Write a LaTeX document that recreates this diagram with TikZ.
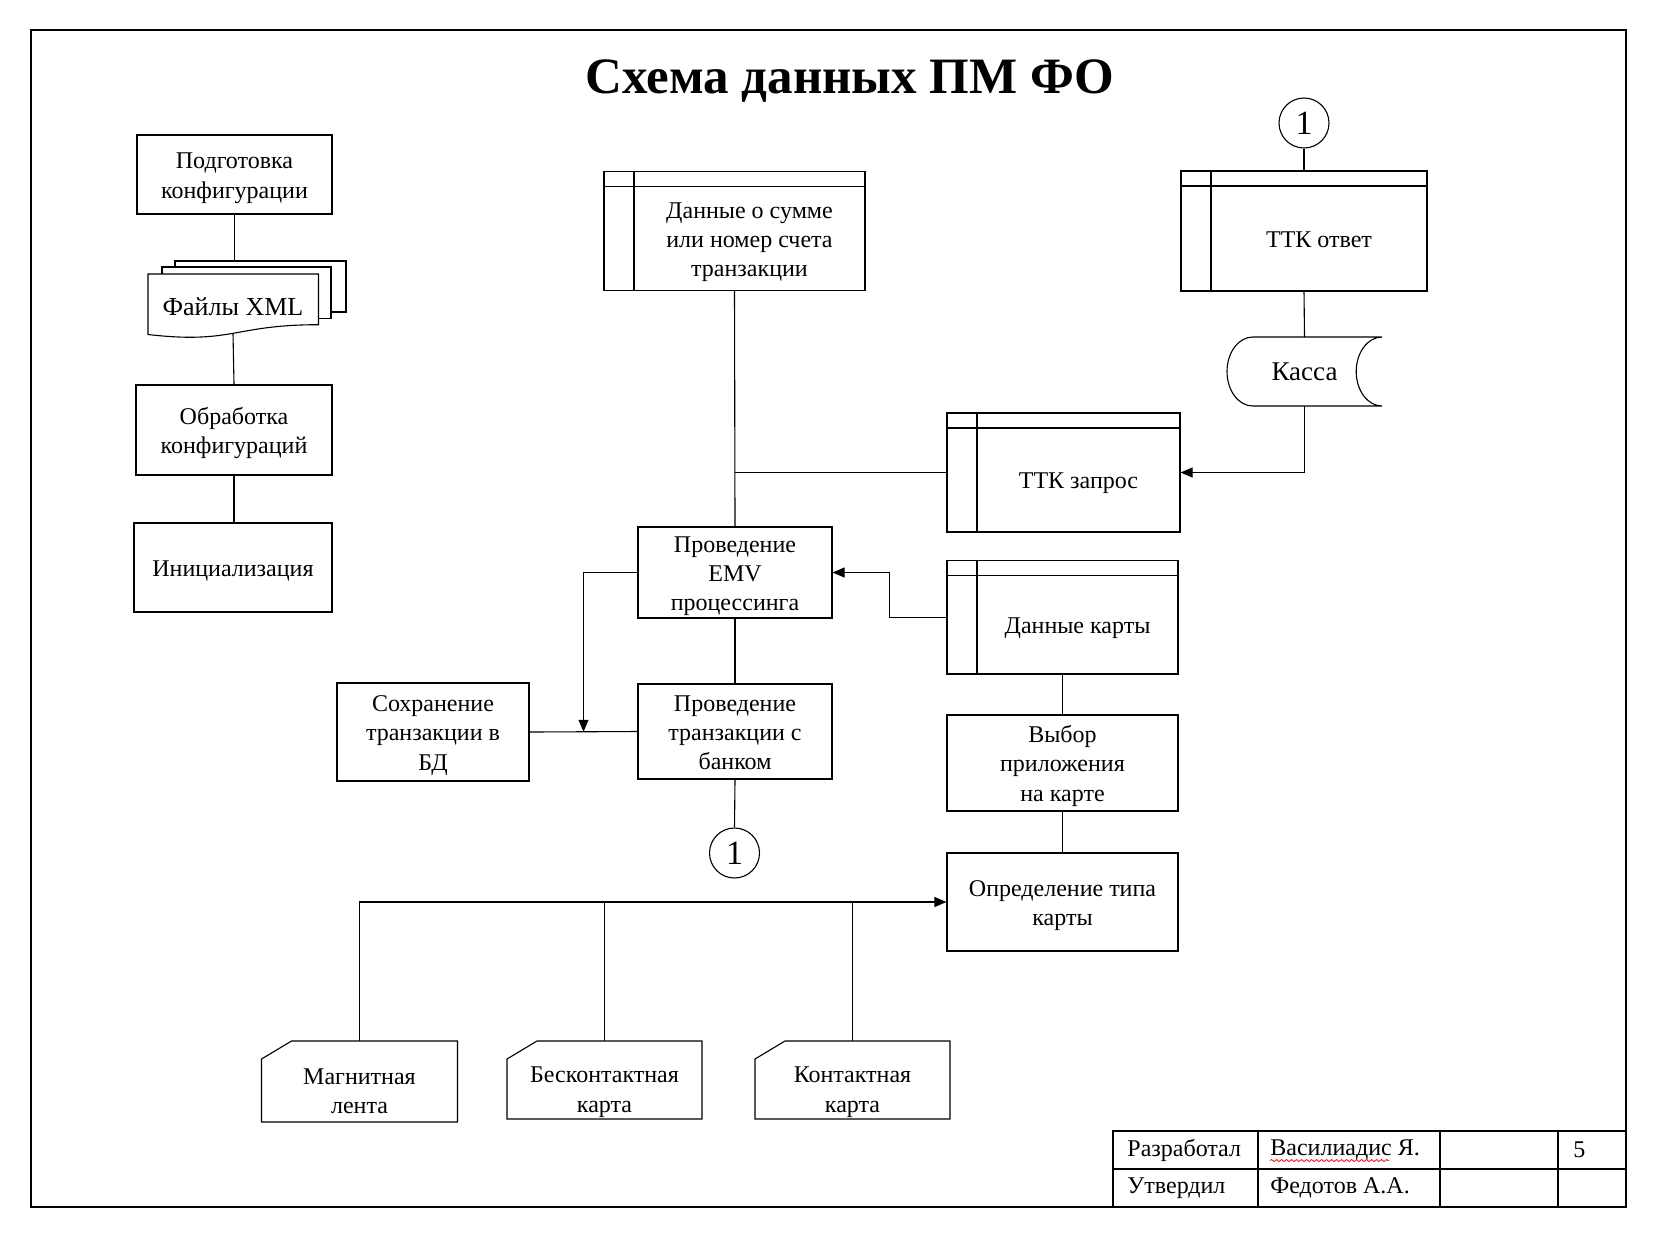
\documentclass[tikz,border=0pt]{standalone}
\usepackage{fontspec}
\setmainfont{Liberation Serif}
\usetikzlibrary{arrows.meta,calc,decorations.pathmorphing}
\newcommand{\bodyfont}{\fontsize{12}{14.7}\selectfont}
\newcommand{\boxfont}{\bodyfont\rule[-2.5pt]{0pt}{14pt}}
\newcommand{\tstrut}{\rule{0pt}{11.5pt}}
\tikzset{
  blk/.style={draw, rectangle, align=center, font=\boxfont, inner xsep=2pt, inner ysep=0.5pt, line width=0.55pt},
  store/.style={blk, path picture={
      \draw[line width=0.55pt] ([yshift=-7.5pt]path picture bounding box.north west) -- ([yshift=-7.5pt]path picture bounding box.north east);
      \draw[line width=0.55pt] ([xshift=15pt]path picture bounding box.north west) -- ([xshift=15pt]path picture bounding box.south west);}},
  storetxt/.style={align=center, font=\boxfont, xshift=7.5pt, yshift=-3.75pt},
  cardbox/.style={rectangle, outer sep=0pt, inner sep=0pt},
  cardtxt/.style={align=center, font=\boxfont, yshift=-4.25pt},
  shp/.style={draw, line width=0.55pt, fill=white},
  conn/.style={draw, circle, minimum size=25pt, inner sep=0pt, line width=0.55pt, font=\fontsize{17}{17}\selectfont},
  ln/.style={draw, line width=0.55pt},
  ar/.style={ln, -{Triangle[length=6pt,width=5pt]}},
  frm/.style={draw, line width=1pt},
  cell/.style={anchor=west, font=\bodyfont, inner sep=0pt},
  squig/.style={draw=red, line width=0.4pt, decorate, decoration={snake, amplitude=0.5pt, segment length=2.5pt}},
}

\begin{document}
\begin{tikzpicture}[x=0.5pt, y=-0.5pt]
  \useasboundingbox (0,0) rectangle (1653,1238);

  % frame and title block
  \draw[frm] (31,30) rectangle (1626,1207);
  \draw[frm] (1113,1207) -- (1113,1131) -- (1626,1131);
  \draw[frm] (1113,1169) -- (1626,1169);
  \foreach \cx in {1258,1440,1558} \draw[frm] (\cx,1131) -- (\cx,1207);
  \node[cell] (devl) at (1127,1150) {Разработал};
  \node[cell] (devn) at (1270,1150) {Василиадис Я.};
  \node[cell] (pg) at (1573,1150) {5};
  \node[cell] (apl) at (1127,1188) {Утвердил};
  \node[cell] (apn) at (1270,1188) {Федотов А.А.};
  \draw[squig] ([yshift=-2.5pt]devn.base west) -- ++(119,0);

  \node[font=\fontsize{25.5}{30}\selectfont\bfseries, anchor=base] (title) at (850,93) {Схема данных ПМ ФО};

  % configuration branch
  \node[blk, minimum width=97.5pt, minimum height=39.5pt] (prep) at (234.5,174.5) {\tstrut Подготовка\\конфигурации};
  \draw[shp] (175,261) rectangle (346,312);
  \draw[shp] (162,267) rectangle (331,318.5);
  \draw[shp] (148,274) -- (318.5,274) -- (318.5,324.7) .. controls (233.2,324.7) and (233.2,344.3) .. (148,334.5) -- cycle;
  \node[font=\fontsize{13}{15}\selectfont] (xml) at (233,307) {Файлы XML};
  \coordinate (xmltop) at (234.5,261);
  \coordinate (xmlbot) at (233,333);
  \node[blk, minimum width=98pt, minimum height=45pt] (proc) at (234,430) {\tstrut Обработка\\конфигураций};
  \node[blk, minimum width=99pt, minimum height=44.5pt] (init) at (233,567.5) {Инициализация};
  \draw[ln] (prep.south) -- (xmltop);
  \draw[ln] (xmlbot) -- (proc.north);
  \draw[ln] (proc.south) -- (proc.south |- init.north);

  % transaction branch
  \node[store, minimum width=130.5pt, minimum height=59.5pt,
        label={[storetxt]center:\tstrut Данные о сумме\\или номер счета\\транзакции}] (sum) at (734.5,231) {};
  \node[blk, minimum width=97pt, minimum height=45.5pt] (emv) at (735,572.5) {\tstrut Проведение\\EMV\\процессинга};
  \node[blk, minimum width=97pt, minimum height=47.5pt] (bank) at (735,731.5) {\tstrut Проведение\\транзакции с\\банком};
  \node[blk, minimum width=96pt, minimum height=49pt] (save) at (433,732) {\tstrut Сохранение\\транзакции в\\БД};
  \node[conn] (c1b) at (734.5,853) {1};
  \coordinate (mid) at ($(save.east)!0.5!(bank.west)$);

  % terminal side
  \node[conn] (c1t) at (1304,123) {1};
  \node[store, minimum width=123pt, minimum height=60pt,
        label={[storetxt]center:ТТК ответ}] (ttkans) at (1304,231) {};
  \node[cardbox, minimum width=77.5pt, minimum height=34.5pt, font=\fontsize{13.5}{15}\selectfont] (kassa) at (1304.5,371.5) {Касса};
  \draw[ln] (kassa.north east) arc[start angle=90, end angle=270, x radius=12.9pt, y radius=17.25pt]
    -- ([xshift=12.9pt]kassa.south west) arc[start angle=270, end angle=90, x radius=12.9pt, y radius=17.25pt] -- cycle;
  \node[store, minimum width=116.5pt, minimum height=59.5pt,
        label={[storetxt]center:ТТК запрос}] (ttkreq) at (1063.5,472.5) {};
  \node[store, minimum width=115.5pt, minimum height=56.75pt,
        label={[storetxt]center:Данные карты}] (card) at (1062.5,617.25) {};
  \node[blk, minimum width=115.5pt, minimum height=48pt] (appsel) at (1062.5,763) {\tstrut Выбор\\приложения\\на карте};
  \node[blk, minimum width=115.5pt, minimum height=49pt] (ctype) at (1062.5,902) {\tstrut Определение типа\\карты};

  % cards
  \node[cardbox, minimum width=98pt, minimum height=40.5pt,
        label={[cardtxt]center:\tstrut Магнитная\\лента}] (mag) at (359.5,1081.5) {};
  \node[cardbox, minimum width=97.5pt, minimum height=39pt,
        label={[cardtxt]center:\tstrut Бесконтактная\\карта}] (nfc) at (604.5,1080) {};
  \node[cardbox, minimum width=97.5pt, minimum height=39pt,
        label={[cardtxt]center:\tstrut Контактная\\карта}] (cont) at (852.5,1080) {};
  \foreach \n in {mag,nfc,cont}
    \draw[ln] ([yshift=-9pt]\n.north west) -- ([xshift=15pt]\n.north west) -- (\n.north east)
      -- (\n.south east) -- (\n.south west) -- cycle;

  % connectors
  \draw[ln] (sum.south) -- (emv.north);
  \draw[ln] (ttkreq.west) -- (ttkreq.west -| sum.south);
  \draw[ar] (card.west) -- ++(-57,0) |- (emv.east);
  \draw[ln] (emv.south) -- (bank.north);
  \draw[ln] (save.east) -- (bank.west);
  \draw[ar] (emv.west) -| (mid);
  \draw[ln] (bank.south) -- (c1b.north);
  \draw[ln] (c1t.south) -- (ttkans.north);
  \draw[ln] (ttkans.south) -- (kassa.north);
  \draw[ar] (kassa.south) |- (ttkreq.east);
  \draw[ln] (card.south) -- (appsel.north);
  \draw[ln] (appsel.south) -- (ctype.north);
  \draw[ar] (mag.north) |- (ctype.west);
  \draw[ln] (nfc.north) -- (nfc.north |- ctype.west);
  \draw[ln] (cont.north) -- (cont.north |- ctype.west);
\end{tikzpicture}
\end{document}
